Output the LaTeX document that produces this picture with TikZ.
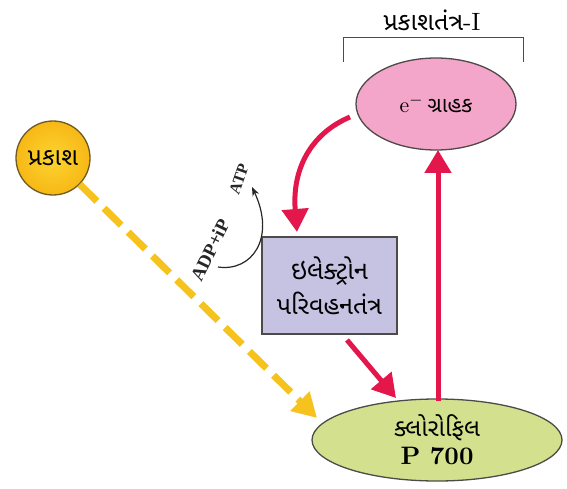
\documentclass[tikz,border=0pt]{standalone}
\usepackage{fontspec}
\usepackage{graphicx}
\newfontfamily\guj[Script=Gujarati]{Noto Sans Gujarati UI}
\newfontfamily\labfont{Liberation Serif}
\usetikzlibrary{shapes.geometric,arrows.meta}
\newcommand{\gw}[2]{\resizebox{#1pt}{!}{\guj #2}}
\definecolor{sunIn}{HTML}{FCD430}
\definecolor{sunOut}{HTML}{F7B816}
\definecolor{sunB}{HTML}{6E5A22}
\definecolor{dashY}{HTML}{F5C21E}
\definecolor{pinkF}{HTML}{F3A6C9}
\definecolor{lavF}{HTML}{C6C2E2}
\definecolor{greenF}{HTML}{D3E08E}
\definecolor{redA}{HTML}{E3174C}
\definecolor{edgeG}{HTML}{4E4A48}
\tikzset{
  gtext/.style={align=center, text=black},
  redarrow/.style={draw=redA, line width=5pt, -{Triangle[width=26pt,length=23pt]}},
  smalllab/.style={font=\labfont\bfseries, text=black!85, inner sep=0pt}
}
\begin{document}
\begin{tikzpicture}[x=1pt,y={(0,-1pt)}]
\useasboundingbox (0,0) rectangle (567,489);
% title and bracket
\node[gtext] (title) at (432,20) {\gw{97}{પ્રકાશતંત્ર{\rmfamily -I}}};
\coordinate (bl) at (343,62);
\coordinate (br) at (523,62);
\draw[edgeG, line width=1pt] (bl) -- ++(0,-24) -- ++(180,0) -- (br);
% nodes
\node[ellipse, draw=edgeG, line width=1.3pt, fill=pinkF, minimum width=160, minimum height=92, gtext] (acc) at (436,104) {\gw{73}{{\rmfamily e$^{-}$}\,ગ્રાહક}};
\node[circle, draw=sunB, line width=1.3pt, inner color=sunIn, outer color=sunOut, minimum size=74, inner sep=0pt, gtext] (sun) at (53,158) {\gw{50}{પ્રકાશ}};
\node[rectangle, draw=edgeG, line width=1.3pt, fill=lavF, minimum width=135, minimum height=97, gtext] (etc) at (329.5,285.5) {\gw{77}{ઇલેક્ટ્રોન}\\[6pt]\gw{105}{પરિવહનતંત્ર}};
\node[ellipse, draw=edgeG, line width=1.3pt, fill=greenF, minimum width=250, minimum height=82, gtext, inner sep=0pt] (chl) at (437,440) {\gw{86}{ક્લોરોફિલ}\\[5pt]\resizebox{73pt}{!}{\bfseries P 700}};
% connectors
\coordinate (dashend) at (317,418);
\draw[dashY, line width=7pt, dash pattern=on 24pt off 10pt, -{Triangle[width=26pt,length=24pt]}] (sun) -- (dashend);
\coordinate (c1) at (350,117);
\coordinate (c2) at (297,232);
\draw[redarrow] (c1) .. controls (310,134) and (292,170) .. (c2);
\coordinate (d1) at (347,340);
\coordinate (d2) at (396,398);
\draw[redarrow] (d1) -- (d2);
\coordinate (u1) at (438,401);
\coordinate (u2) at (438,150);
\draw[redarrow] (u1) -- (u2);
% ATP cycle
\coordinate (a1) at (218,267);
\coordinate (a2) at (252,187);
\draw[black!85, line width=1.2pt, -{Stealth[length=9pt,width=7pt]}] (a1) .. controls (252,272) and (276,238) .. (a2);
\node[smalllab, rotate=64] (adp) at (210,250) {\resizebox{66pt}{!}{ADP+iP}};
\node[smalllab, rotate=71] (atp) at (239,179) {\resizebox{31pt}{!}{ATP}};
\end{tikzpicture}
\end{document}
